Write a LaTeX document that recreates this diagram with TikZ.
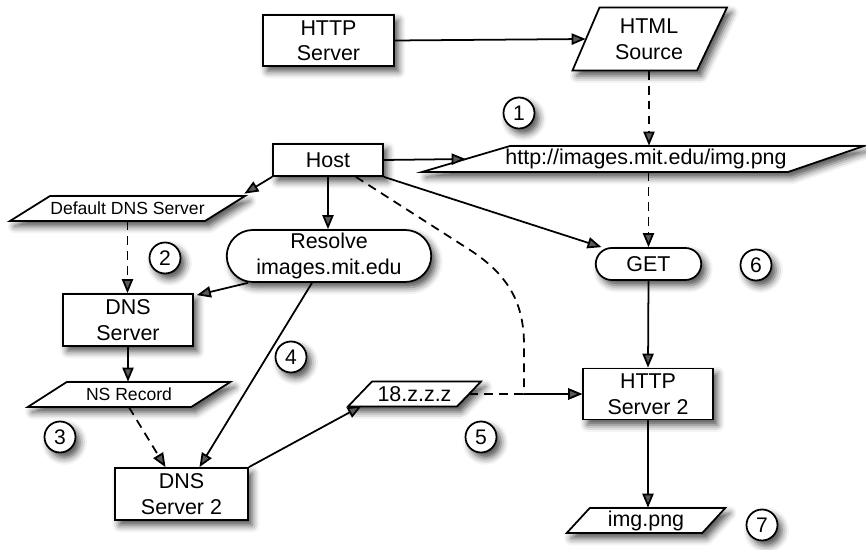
\documentclass[tikz,border=0pt]{standalone}
\usepackage{fontspec}
\setmainfont{Liberation Sans}
\usetikzlibrary{arrows.meta,calc,shapes.misc,shadows.blur}

% parallelogram (data) box: name, cx, cy, mid width, height, left slant, right slant, text
\newcommand\iopara[8]{%
  \path[ioshape] ({#2-#4/2+#6/2},{#3-#5/2}) -- ({#2+#4/2+#7/2},{#3-#5/2})
     -- ({#2+#4/2-#7/2},{#3+#5/2}) -- ({#2-#4/2-#6/2},{#3+#5/2}) -- cycle;
  \node[iotext, minimum width={#4*0.02cm}, minimum height={#5*0.02cm}] (#1) at (#2,#3) {#8};}

\tikzset{
  shd/.style={blur shadow={shadow xshift=2.5pt, shadow yshift=-3pt,
      shadow blur radius=4pt, shadow opacity=70}},
  proc/.style={draw, fill=white, line width=1pt, shd, align=center,
      inner sep=1pt, font=\fontsize{12.2}{14.5}\selectfont},
  pill/.style={proc, rounded rectangle},
  ioshape/.style={draw, fill=white, line width=1pt, shd},
  iotext/.style={inner sep=0pt, align=center, font=\fontsize{12.2}{14.5}\selectfont},
  num/.style={circle, draw, fill=white, line width=1pt, shd, minimum size=0.62cm,
      inner sep=0pt, font=\fontsize{12}{14}\selectfont},
  arr/.style={line width=1pt, -{Triangle[length=8pt,width=6.4pt]}},
  darr/.style={arr, dash pattern=on 5pt off 3.5pt},
}

\begin{document}
\begin{tikzpicture}[x=0.02cm, y=-0.02cm]
\useasboundingbox (0,0) rectangle (866,550);

% processes
\node[proc, minimum width=2.62cm, minimum height=1.02cm] (http1) at (328.5,40.5) {HTTP\\Server};
\node[proc, minimum width=2.2cm, minimum height=0.64cm] (host) at (328,160) {Host};
\node[proc, minimum width=2.6cm, minimum height=1.04cm] (dns1) at (128,320) {DNS\\Server};
\node[proc, minimum width=2.66cm, minimum height=1.04cm] (dns2) at (181.5,494) {DNS\\Server 2};
\node[proc, minimum width=2.6cm, minimum height=1.02cm] (http2) at (648,394) {HTTP\\Server 2};
\node[pill, minimum width=4.16cm, minimum height=1.04cm] (resolve) at (329,256) {Resolve\\images.mit.edu};
\node[pill, minimum width=2.18cm, minimum height=0.64cm] (get) at (648.5,264) {GET};

% data
\iopara{html}{649}{39}{126}{63}{27}{30}{HTML\\Source}
\iopara{link}{646}{159}{360}{26}{88}{76}{http://images.mit.edu/img.png}
\iopara{dflt}{127.5}{208.5}{195}{25}{40}{40}{\fontsize{10}{12}\selectfont Default DNS Server}
\iopara{ns}{129}{394.5}{163.5}{25}{39}{39}{\fontsize{10}{12}\selectfont NS Record}
\iopara{z18}{414.5}{394}{109}{25}{24}{24}{18.z.z.z}
\iopara{img}{646}{520.5}{135.5}{25}{23}{23}{img.png}

% step numbers
\node[num] (n1) at (519,113) {1};
\node[num] (n2) at (165,258) {2};
\node[num] (n3) at (60,437) {3};
\node[num] (n4) at (291,357) {4};
\node[num] (n5) at (481,437) {5};
\node[num] (n6) at (756,265) {6};
\node[num] (n7) at (762,525) {7};

% page fetch
\draw[arr] (http1.east) -- (html.west);
\draw[darr] (html.south) -- (html.south |- link.north);
\draw[arr] (host.east) -- (link.west);
\draw[darr] (get.north |- link.south) -- (get.north);
\draw[arr] (host.south east) -- ($(get.north)+(-47,0)$);
\draw[arr] (get.south) -- (http2.north);
\draw[arr] (http2.south) -- (http2.south |- img.north);

% name resolution
\draw[arr] (host.south west) -- ($(dflt.north east)+(19,-2)$);
\draw[arr] (host.south) -- (host.south |- resolve.north);
\draw[darr] (dflt.south) -- (dflt.south |- dns1.north);
\draw[arr] ($(resolve.south)+(-81,0)$) -- ($(dns1.north east)+(3,2)$);
\draw[arr] (dns1.south) -- (dns1.south |- ns.north);
\draw[darr] (ns.south) -- ($(dns2.north)+(-16,0)$);
\draw[arr] ($(resolve.south)+(-17,0)$) -- ($(dns2.north)+(18,0)$);
\draw[arr] (dns2.north east) -- ($(z18.south west)+(2,-1)$);
\draw[darr] (z18.east) -- (http2.west);
\draw[darr] ($(host.south east)+(-28,0)$) -- (470,250)
   .. controls (510,276) and (524,305) .. (524,345) |- (http2.west);
\end{tikzpicture}
\end{document}
